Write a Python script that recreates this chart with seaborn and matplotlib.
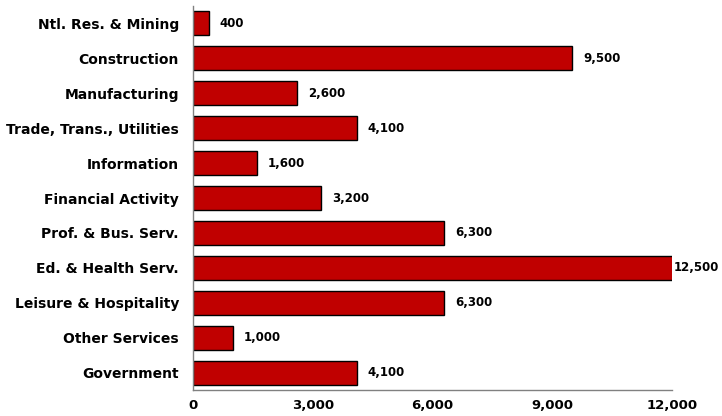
import matplotlib
matplotlib.use("Agg")
import matplotlib.pyplot as plt
import seaborn as sns
import pandas as pd

categories = ["Ntl. Res. & Mining", "Construction", "Manufacturing", "Trade, Trans., Utilities",
              "Information", "Financial Activity", "Prof. & Bus. Serv.", "Ed. & Health Serv.",
              "Leisure & Hospitality", "Other Services", "Government"]
values = [400, 9500, 2600, 4100, 1600, 3200, 6300, 12500, 6300, 1000, 4100]
xticks = [0, 3000, 6000, 9000, 12000]

df = pd.DataFrame({"cat": categories, "val": values})

sns.set_style("white")
plt.rcParams['font.family'] = ['DejaVu Sans']
plt.rcParams['text.color'] = 'black'
plt.rcParams['xtick.color'] = 'black'
plt.rcParams['ytick.color'] = 'black'

fig = plt.figure(figsize=(7.22, 4.16), dpi=100)
ax = fig.add_axes([0.267, 0.062, 0.664, 0.924])
sns.barplot(data=df, y="cat", x="val", orient="h", color="#C00000", saturation=1,
            edgecolor="black", linewidth=1, width=0.68, ax=ax)

ax.set_xlim(0, 12000)
ax.set_ylim(len(categories) - 0.5, -0.5)
ax.set_xticks(xticks)
ax.set_xticklabels([f"{t:,}" for t in xticks], fontsize=9.5, fontweight="bold", color="black")
ax.set_yticklabels(categories, fontsize=10, fontweight="bold", color="black")
ax.set_xlabel("")
ax.set_ylabel("")
for s in ["top", "right"]:
    ax.spines[s].set_visible(False)
for s in ["left", "bottom"]:
    ax.spines[s].set_color("#808080")
    ax.spines[s].set_linewidth(1)
ax.tick_params(axis="x", direction="out", length=4, color="#808080", width=1, pad=2)
ax.tick_params(axis="y", length=0, pad=10)

for i, v in enumerate(values):
    xe = min(v, 12000)
    off = 8 if v <= 12000 else 1
    ax.annotate(f"{v:,}", xy=(xe, i), xytext=(off, 0), textcoords="offset points",
                ha="left", va="center", fontsize=8.5, fontweight="bold", color="black",
                annotation_clip=False)

fig.savefig("out.png", dpi=100)
